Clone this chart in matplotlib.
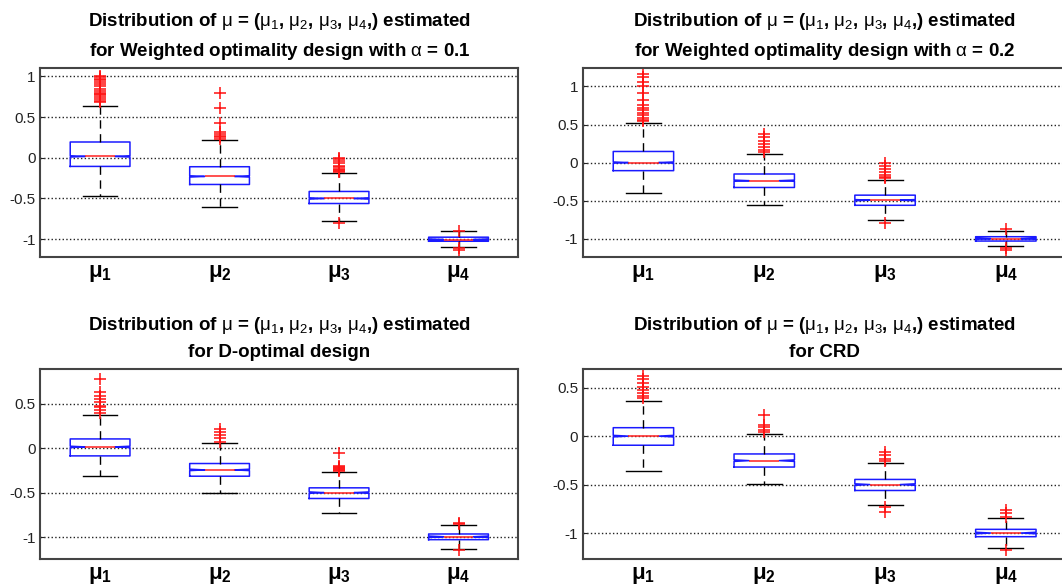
import matplotlib
matplotlib.use("Agg")
import matplotlib.pyplot as plt

plt.rcParams['font.family'] = ['Liberation Sans', 'DejaVu Sans']
plt.rcParams['mathtext.fontset'] = 'custom'
plt.rcParams['mathtext.rm'] = 'Liberation Sans'
plt.rcParams['mathtext.it'] = 'Liberation Sans:italic'
plt.rcParams['mathtext.bf'] = 'Liberation Sans:bold'

labels = [r'$\mathbf{\mu_1}$', r'$\mathbf{\mu_2}$', r'$\mathbf{\mu_3}$', r'$\mathbf{\mu_4}$']
head = r'Distribution of $\mathrm{\mu}$ = ($\mathrm{\mu_1}$, $\mathrm{\mu_2}$, $\mathrm{\mu_3}$, $\mathrm{\mu_4}$,) estimated'

# ---- weighted optimality, alpha = 0.1
wa1_q1 = [-0.107, -0.329, -0.563, -1.027]
wa1_med = [0.016, -0.230, -0.501, -1.006]
wa1_q3 = [0.193, -0.111, -0.415, -0.977]
wa1_lo = [-0.472, -0.608, -0.784, -1.100]
wa1_hi = [0.632, 0.214, -0.189, -0.903]
wa1_fliers = [
    [0.68, 0.70, 0.72, 0.75, 0.77, 0.78, 0.80, 0.82, 0.85, 0.88, 0.90, 0.93, 0.95, 0.97, 0.99, 1.0],
    [0.23, 0.25, 0.27, 0.29, 0.31, 0.43, 0.61, 0.79],
    [0.0, -0.02, -0.04, -0.07, -0.10, -0.12, -0.14, -0.15, -0.16, -0.17, -0.80],
    [-0.895, -1.109, -1.13],
]

# ---- weighted optimality, alpha = 0.2
wa2_q1 = [-0.106, -0.327, -0.561, -1.031]
wa2_med = [0.0, -0.238, -0.494, -1.0]
wa2_q3 = [0.146, -0.150, -0.428, -0.974]
wa2_lo = [-0.406, -0.561, -0.755, -1.10]
wa2_hi = [0.521, 0.115, -0.225, -0.903]
wa2_fliers = [
    [0.54, 0.56, 0.59, 0.62, 0.65, 0.69, 0.72, 0.76, 0.82, 0.91, 1.0, 1.06, 1.12, 1.166],
    [0.137, 0.168, 0.20, 0.247, 0.29, 0.335, 0.38],
    [0.0, -0.04, -0.084, -0.128, -0.16, -0.185, -0.20, -0.79],
    [-0.868, -1.12, -1.155],
]

# ---- D-optimal
dop_q1 = [-0.086, -0.315, -0.566, -1.03]
dop_med = [0.015, -0.244, -0.50, -0.997]
dop_q3 = [0.105, -0.172, -0.446, -0.966]
dop_lo = [-0.31, -0.50, -0.727, -1.13]
dop_hi = [0.38, 0.06, -0.27, -0.87]
dop_fliers = [
    [0.40, 0.43, 0.46, 0.48, 0.52, 0.555, 0.59, 0.63, 0.78],
    [0.07, 0.11, 0.146, 0.18, 0.22],
    [-0.05, -0.20, -0.21, -0.22, -0.23, -0.24, -0.255],
    [-0.84, -0.855, -1.15],
]

# ---- CRD
crd_q1 = [-0.094, -0.319, -0.561, -1.038]
crd_med = [0.0, -0.253, -0.50, -1.0]
crd_q3 = [0.087, -0.184, -0.447, -0.962]
crd_lo = [-0.357, -0.492, -0.71, -1.156]
crd_hi = [0.367, 0.017, -0.277, -0.844]
crd_fliers = [
    [0.39, 0.41, 0.45, 0.48, 0.51, 0.55, 0.59, 0.62],
    [0.04, 0.062, 0.09, 0.114, 0.22],
    [-0.163, -0.197, -0.232, -0.256, -0.734, -0.786],
    [-0.76, -0.796, -0.83, -1.18],
]

notch = 0.008

panels = [
    (head + '\nfor Weighted optimality design with $\\mathrm{\\alpha}$ = 0.1',
     wa1_q1, wa1_med, wa1_q3, wa1_lo, wa1_hi, wa1_fliers, (-1.22, 1.10), [-1, -0.5, 0, 0.5, 1],
     [0.038, 0.563, 0.450, 0.321]),
    (head + '\nfor Weighted optimality design with $\\mathrm{\\alpha}$ = 0.2',
     wa2_q1, wa2_med, wa2_q3, wa2_lo, wa2_hi, wa2_fliers, (-1.24, 1.24), [-1, -0.5, 0, 0.5, 1],
     [0.549, 0.563, 0.455, 0.321]),
    (head + '\nfor D-optimal design',
     dop_q1, dop_med, dop_q3, dop_lo, dop_hi, dop_fliers, (-1.25, 0.89), [-1, -0.5, 0, 0.5],
     [0.038, 0.049, 0.450, 0.323]),
    (head + '\nfor CRD',
     crd_q1, crd_med, crd_q3, crd_lo, crd_hi, crd_fliers, (-1.27, 0.69), [-1, -0.5, 0, 0.5],
     [0.549, 0.049, 0.455, 0.323]),
]

fig = plt.figure(figsize=(10.62, 5.88), dpi=100)

for title, q1, med, q3, lo, hi, fl, ylim, yt, rect in panels:
    ax = fig.add_axes(rect)
    stats = []
    for i in range(4):
        stats.append(dict(q1=q1[i], med=med[i], q3=q3[i], whislo=lo[i], whishi=hi[i],
                          fliers=fl[i], cilo=med[i] - notch, cihi=med[i] + notch))
    ax.bxp(stats, positions=[1, 2, 3, 4], widths=0.5, capwidths=0.29, shownotches=True,
           boxprops=dict(color='#1a1aff', lw=1.1),
           medianprops=dict(color='#ff2020', lw=1.1),
           whiskerprops=dict(color='black', lw=1.0, linestyle=(0, (6, 4))),
           capprops=dict(color='black', lw=1.0),
           flierprops=dict(marker='+', markeredgecolor='#ff1010', markersize=8, mew=1.1))
    ax.set_xlim(0.5, 4.5)
    ax.set_ylim(*ylim)
    ax.set_yticks(yt)
    ax.set_yticklabels(['%g' % v for v in yt])
    ax.set_xticks([1, 2, 3, 4])
    ax.set_xticklabels(labels, fontsize=16)
    ax.yaxis.grid(True, linestyle=':', color='#222222', lw=1.0)
    ax.set_axisbelow(True)
    ax.tick_params(axis='x', length=0, pad=4)
    ax.tick_params(axis='y', direction='in', length=3, labelsize=11, colors='#222222')
    for s in ax.spines.values():
        s.set_color('#444444')
        s.set_linewidth(1.5)
    ax.set_title(title, fontsize=13.5, fontweight='bold', pad=9, linespacing=1.6)

fig.savefig('out.png', dpi=100)
